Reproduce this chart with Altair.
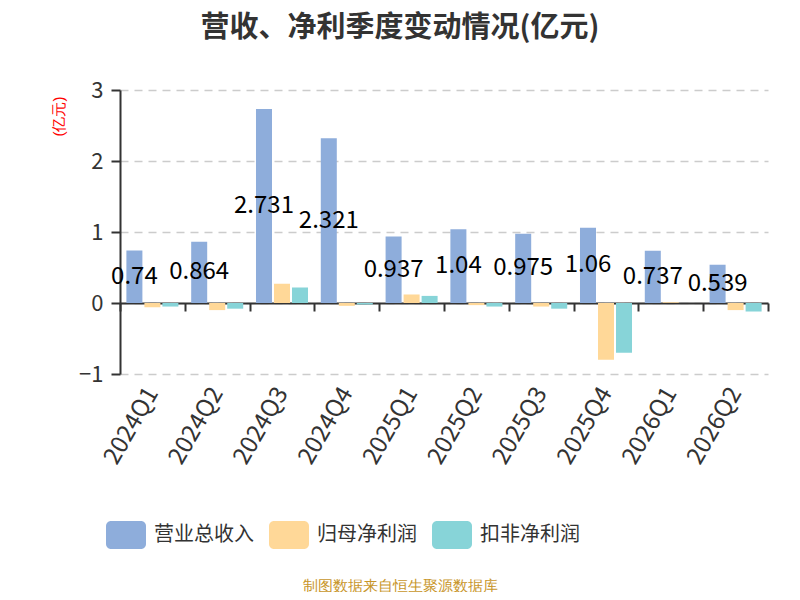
import altair as alt
import pandas as pd

quarters = ["2024Q1", "2024Q2", "2024Q3", "2024Q4", "2025Q1",
            "2025Q2", "2025Q3", "2025Q4", "2026Q1", "2026Q2"]
series_names = ["营业总收入", "归母净利润", "扣非净利润"]
revenue = [0.74, 0.864, 2.731, 2.321, 0.937, 1.04, 0.975, 1.06, 0.737, 0.539]
net_profit = [-0.06, -0.10, 0.27, -0.04, 0.12, -0.03, -0.05, -0.80, 0.01, -0.10]
deducted_profit = [-0.05, -0.08, 0.22, -0.02, 0.10, -0.05, -0.08, -0.70, 0.00, -0.12]
colors = ["#8EADDB", "#FFD898", "#87D4D8"]

rows = []
for i, q in enumerate(quarters):
    for name, vals in zip(series_names, [revenue, net_profit, deducted_profit]):
        rows.append({"quarter": q, "series": name, "value": vals[i]})
df = pd.DataFrame(rows)
df_rev = pd.DataFrame({"quarter": quarters, "value": revenue,
                       "mid": [v / 2 for v in revenue],
                       "series": series_names[0],
                       "label": [f"{v:g}" for v in revenue]})

x_scale = alt.Scale(domain=quarters, paddingInner=0, paddingOuter=0)
xoff_scale = alt.Scale(domain=series_names, paddingInner=0.111, paddingOuter=0.355)
y_scale = alt.Scale(domain=[-1, 3], nice=False, zero=False)

rounded = ("M-0.75,-0.7H0.75A0.25,0.25 0 0 1 1,-0.45V0.45A0.25,0.25 0 0 1 0.75,0.7"
           "H-0.75A0.25,0.25 0 0 1 -1,0.45V-0.45A0.25,0.25 0 0 1 -0.75,-0.7Z")

x_axis = alt.Axis(
    title="制图数据来自恒生聚源数据库",
    titleColor="#C8962A", titleFontSize=15, titleFontWeight="normal",
    titleX=280, titleY=282, titleAnchor="middle", titleAlign="center",
    titleBaseline="middle",
    offset=-71, domainColor="#333333", domainWidth=2,
    tickBand="extent", tickColor="#333333", tickWidth=2, tickSize=8,
    labelAngle=-60, labelAlign="right", labelBaseline="middle",
    labelFontSize=24, labelColor="#333333", labelPadding=78,
    labelFont="Noto Sans CJK SC", grid=False,
)
y_axis = alt.Axis(
    title="(亿元)", titleColor="#FF0000", titleFontSize=15,
    titleFontWeight="normal", titleX=-62, titleY=26, titleAngle=-90,
    titleAlign="center", titleBaseline="middle",
    values=[-1, 0, 1, 2, 3], format="d", labelFontSize=22, labelColor="#333333",
    labelPadding=8, domainColor="#333333", domainWidth=2,
    tickColor="#333333", tickWidth=2, tickSize=9,
    gridColor="#CCCCCC", gridDash=[8, 6], gridWidth=1.5,
    labelFont="Noto Sans CJK SC",
)

bars = alt.Chart(df).mark_bar().encode(
    x=alt.X("quarter:N", scale=x_scale, axis=x_axis, sort=quarters),
    xOffset=alt.XOffset("series:N", scale=xoff_scale, sort=series_names),
    y=alt.Y("value:Q", scale=y_scale, axis=y_axis),
    color=alt.Color("series:N", scale=alt.Scale(domain=series_names, range=colors),
                    legend=alt.Legend(
                        title=None, orient="none", direction="horizontal",
                        legendX=-14, legendY=425, symbolType=rounded,
                        symbolSize=1600, symbolStrokeWidth=0, symbolOpacity=1,
                        labelFontSize=20, labelColor="#333333", labelOffset=8,
                        columnPadding=15, labelFont="Noto Sans CJK SC",
                        padding=0)),
)

labels = alt.Chart(df_rev).mark_text(fontSize=24, color="#000000",
                                      font="Noto Sans CJK SC").encode(
    x=alt.X("quarter:N", scale=x_scale, sort=quarters),
    xOffset=alt.XOffset("series:N", scale=xoff_scale, sort=series_names),
    y=alt.Y("mid:Q", scale=y_scale),
    text="label:N",
)

chart = alt.layer(bars, labels).properties(
    width=648, height=284,
    padding={"left": 112, "top": 82, "right": 24, "bottom": 218},
    autosize=alt.AutoSizeParams(type="none"),
    title=alt.TitleParams("营收、净利季度变动情况(亿元)", fontSize=29,
                          fontWeight="bold", color="#333333", anchor="middle",
                          dx=-44, offset=36, font="Noto Sans CJK SC"),
).configure_view(stroke=None)

chart.save("out.html", embed_options={"renderer": "svg", "actions": False})
